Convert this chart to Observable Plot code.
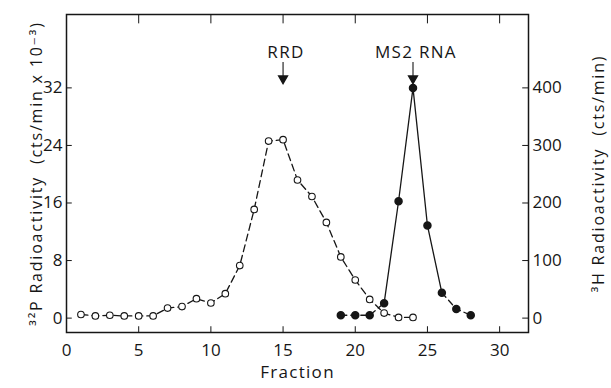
<!DOCTYPE html>
<html><head><meta charset="utf-8">
<script src="https://cdn.jsdelivr.net/npm/d3@7"></script>
<script src="https://cdn.jsdelivr.net/npm/@observablehq/plot@0.6"></script>
<style>body{margin:0;background:#fff}</style>
</head><body><div id="chart"></div>
<script>
// 32P (open circles), cts/min x 10^-3
const fractionsP = [1,2,3,4,5,6,7,8,9,10,11,12,13,14,15,16,17,18,19,20,21,22,23,24];
const p32 = [0.5,0.3,0.4,0.3,0.3,0.3,1.4,1.6,2.7,2.1,3.4,7.3,15.1,24.6,24.8,19.2,16.9,13.3,8.5,5.3,2.6,0.7,0.1,0.1];
// 3H (filled circles), cts/min
const fractionsH = [19,20,21,22,23,24,25,26,27,28];
const h3 = [5,5,5,26,203,400,161,44,16,5];
const xTicks = [0,5,10,15,20,25,30];
const leftTicks = [0,8,16,24,32];
const rightTicks = [0,100,200,300,400];
const annotLabels = ["RRD","MS2 RNA"];
const annotFractions = [15,24];
const scaleH = 12.5; // 3H cts/min per left-axis unit

const pData = fractionsP.map((f,i)=>({f, v:p32[i]}));
const hData = fractionsH.map((f,i)=>({f, v:h3[i]/scaleH}));
const hSolid = hData.filter(d=>d.f>=22 && d.f<=26);
const hDashA = hData.filter(d=>d.f<=22);
const hDashB = hData.filter(d=>d.f>=26);
const annot = annotLabels.map((l,i)=>({label:l, f:annotFractions[i]}));

const ink = "#161616";
const chart = Plot.plot({
  width:611, height:388,
  marginLeft:66, marginRight:83, marginTop:14, marginBottom:56,
  style:{fontFamily:"Open Sans, DejaVu Sans, sans-serif", fontSize:"17px", background:"white", color:ink},
  x:{domain:[0,32]},
  y:{domain:[-2,42.2]},
  marks:[
    Plot.frame({stroke:ink, strokeWidth:1.5}),
    Plot.axisX({ticks:xTicks, tickSize:0, tickPadding:11, label:null}),
    Plot.axisY({anchor:"left", ticks:leftTicks, tickSize:0, tickPadding:4, label:null}),
    Plot.axisY(rightTicks.map(v=>v/scaleH), {anchor:"right", tickFormat:d=>Math.round(d*scaleH), tickSize:0, tickPadding:4, label:null}),
    Plot.ruleY(leftTicks, {y:d=>d, x1:0, x2:0.4, stroke:ink}),
    Plot.ruleY(rightTicks.map(v=>v/scaleH), {y:d=>d, x1:31.6, x2:32, stroke:ink}),
    Plot.ruleX(xTicks.filter(d=>d>0), {x:d=>d, y1:-2, y2:-1.2, stroke:ink}),
    Plot.ruleX(xTicks.filter(d=>d>0), {x:d=>d, y1:40.9, y2:42.2, stroke:ink}),
    // 32P dashed line + open circles
    Plot.line(pData, {x:"f", y:"v", stroke:ink, strokeWidth:1.3, strokeDasharray:"7,4"}),
    Plot.dot(pData, {x:"f", y:"v", r:3.3, fill:"white", stroke:ink, strokeWidth:1.1}),
    // 3H lines + filled circles
    Plot.line(hDashA, {x:"f", y:"v", stroke:ink, strokeWidth:1.3, strokeDasharray:"6,4"}),
    Plot.line(hDashB, {x:"f", y:"v", stroke:ink, strokeWidth:1.3, strokeDasharray:"6,4"}),
    Plot.line(hSolid, {x:"f", y:"v", stroke:ink, strokeWidth:1.3}),
    Plot.dot(hData, {x:"f", y:"v", r:3.5, fill:ink, stroke:ink}),
    // annotations
    Plot.text(annot, {x:d=>d.f+0.2, y:36.9, text:"label", fontSize:17}),
    Plot.link(annot, {x1:"f", x2:"f", y1:35.6, y2:33.6, stroke:ink, strokeWidth:1.1, strokeDasharray:d=>d.label==="RRD"?null:"3,2"}),
    Plot.dot(annot, {x:"f", y:33.3, symbol:"triangle", r:3.2, rotate:180, fill:ink, stroke:ink}),
    // axis titles
    Plot.text(["Fraction"], {frameAnchor:"bottom", dy:45, fontSize:17}),
    Plot.text(["³²P Radioactivity  (cts/min x 10⁻³)"], {frameAnchor:"left", textAnchor:"middle", dx:-30, rotate:-90, fontSize:16}),
    Plot.text(["³H Radioactivity  (cts/min)"], {frameAnchor:"right", textAnchor:"middle", dx:70, rotate:-90, fontSize:16})
  ]
});
document.getElementById("chart").appendChild(chart);
const sel = d3.select(chart).selectAll("text");
sel.filter(function(){return /Radioactivity/.test(this.textContent);}).style("letter-spacing","1.8px").style("white-space","pre");
sel.filter(function(){return /RRD|MS2|Fraction/.test(this.textContent);}).style("letter-spacing","1.3px");
</script>
</body></html>
